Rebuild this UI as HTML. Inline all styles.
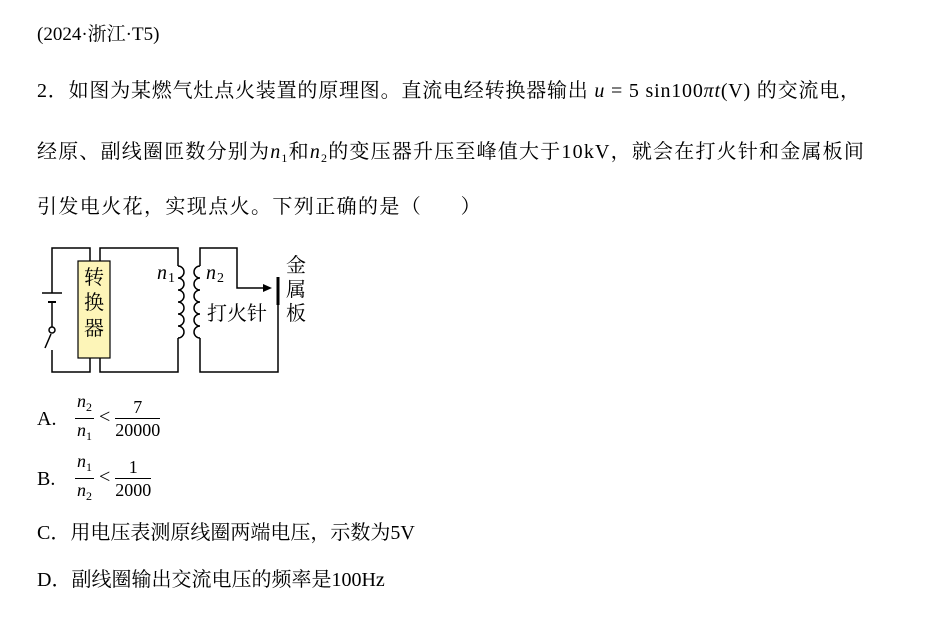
<!DOCTYPE html>
<html><head><meta charset="utf-8"><style>
body{margin:0;width:930px;height:633px;background:#fff;position:relative;overflow:hidden;font-family:"Liberation Serif","Noto Serif CJK SC",serif;color:#000}
.l{position:absolute;left:37px;font-size:20px;white-space:nowrap;line-height:24px}
.w{letter-spacing:1.4px}
i{font-family:"Liberation Serif",serif}
sub{font-size:12px;vertical-align:-4px}
.fr{display:inline-block;vertical-align:middle;text-align:center;font-size:18px;line-height:22px}
.fr span{display:block}
.fr .t{border-bottom:1px solid #000;padding:0 2px}
</style></head><body>
<div class="l" style="top:23px;font-size:19px">(2024·浙江·T5)</div>
<div class="l" style="top:79px;letter-spacing:0.8px">2．如图为某燃气灶点火装置的原理图。直流电经转换器输出 <i>u</i> = 5 sin100<i>πt</i>(V) 的交流电，</div>
<div class="l" style="top:140px;letter-spacing:1.2px">经原、副线圈匝数分别为<i>n</i><sub>1</sub>和<i>n</i><sub>2</sub>的变压器升压至峰值大于10kV，就会在打火针和金属板间</div>
<div class="l w" style="top:195px">引发电火花，实现点火。下列正确的是（&nbsp;&nbsp;&nbsp;&nbsp;&nbsp;&nbsp;）</div>

<svg style="position:absolute;left:0;top:0" width="930" height="633">
<g stroke="#000" stroke-width="1.5" fill="none">
<polyline points="90,261 90,248 52,248 52,293"/>
<line x1="42" y1="293" x2="62" y2="293"/>
<line x1="48" y1="302" x2="56" y2="302" stroke-width="2"/>
<line x1="52" y1="302" x2="52" y2="327"/>
<circle cx="52" cy="330" r="3"/>
<line x1="51" y1="334" x2="45" y2="348"/>
<polyline points="52,350 52,372 90,372 90,358"/>
<polyline points="100,261 100,248 178,248 178,266"/>
<path d="M178,266 a6,6 0 0 1 0,12 a6,6 0 0 1 0,12 a6,6 0 0 1 0,12 a6,6 0 0 1 0,12 a6,6 0 0 1 0,12 a6,6 0 0 1 0,12"/>
<polyline points="178,338 178,372 100,372 100,358"/>
<polyline points="200,266 200,248 237,248 237,288 266,288"/>
<path d="M200,266 a6,6 0 0 0 0,12 a6,6 0 0 0 0,12 a6,6 0 0 0 0,12 a6,6 0 0 0 0,12 a6,6 0 0 0 0,12 a6,6 0 0 0 0,12"/>
<polyline points="200,338 200,372 278,372 278,305"/>
</g>
<polygon points="272,288 263,284 263,292" fill="#000"/>
<line x1="278" y1="277" x2="278" y2="305" stroke="#000" stroke-width="3"/>
<rect x="78" y="261" width="32" height="97" fill="#fdf5b8" stroke="#000" stroke-width="1.2"/>
<g font-family="Noto Serif CJK SC,serif" font-size="20">
<text x="84" y="284">转</text><text x="84" y="309">换</text><text x="84" y="335">器</text>
<text x="207" y="320">打火针</text>
<text x="286" y="272">金</text><text x="286" y="296">属</text><text x="286" y="320">板</text>
</g>
<g font-family="Liberation Serif,serif" font-style="italic" font-size="20">
<text x="157" y="279">n</text><text x="206" y="279">n</text></g>
<g font-family="Liberation Serif,serif" font-size="14"><text x="168" y="282">1</text><text x="217" y="282">2</text></g>
</svg>

<div class="l" style="top:390px"><span style="display:inline-block;vertical-align:middle;width:38px">A.</span><span class="fr"><span class="t"><i>n</i><sub>2</sub></span><span><i>n</i><sub>1</sub></span></span> &lt; <span class="fr"><span class="t">7</span><span>20000</span></span></div>
<div class="l" style="top:450px"><span style="display:inline-block;vertical-align:middle;width:38px">B.</span><span class="fr"><span class="t"><i>n</i><sub>1</sub></span><span><i>n</i><sub>2</sub></span></span> &lt; <span class="fr"><span class="t">1</span><span>2000</span></span></div>
<div class="l" style="top:521px">C．用电压表测原线圈两端电压，示数为5V</div>
<div class="l" style="top:568px">D．副线圈输出交流电压的频率是100Hz</div>
</body></html>
